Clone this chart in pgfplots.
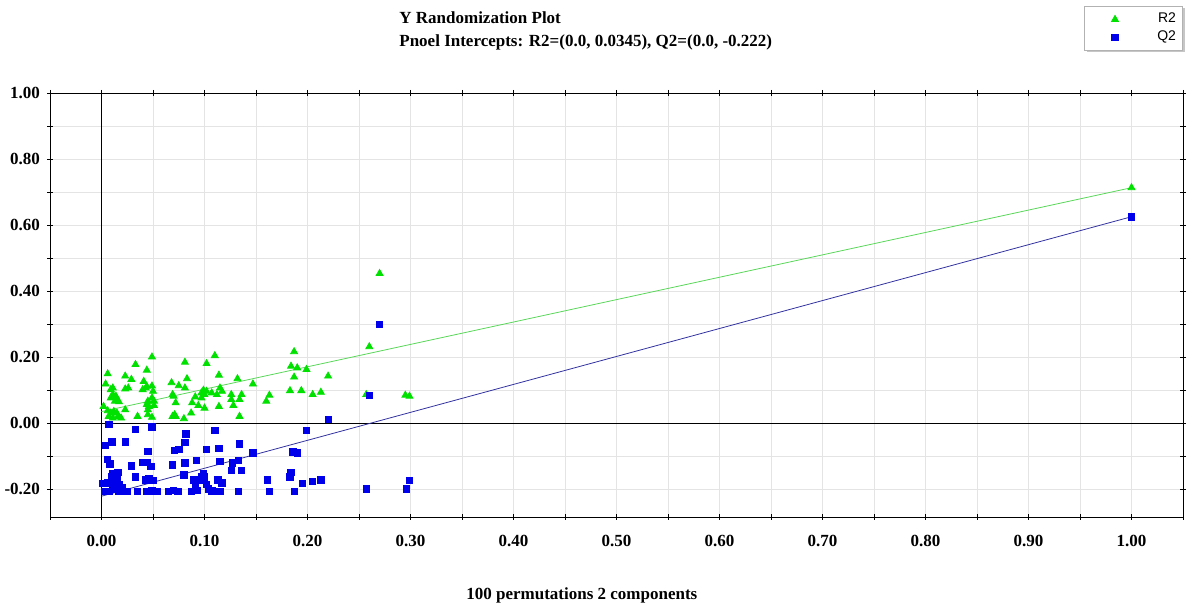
\documentclass[border=0pt]{standalone}
\usepackage{fontspec}
\setmainfont{Liberation Serif}
\newfontfamily\legendfont{Liberation Sans}
\usepackage{pgfplots}
\pgfplotsset{compat=1.18}
\usetikzlibrary{shadows}

\definecolor{rgreen}{RGB}{0,225,0}
\definecolor{qblue}{RGB}{0,0,235}
\definecolor{rline}{RGB}{90,215,90}
\definecolor{qline}{RGB}{50,50,160}
\definecolor{gridc}{RGB}{228,228,228}

\pgfplotsset{mylegend/.style={legend image code/.code={\path (0pt,0pt) (20pt,0pt); \draw[##1] plot coordinates {(13pt,0pt)};}}}

\begin{document}
\begin{tikzpicture}[x=1pt,y=1pt]
\path[use as bounding box] (0,0) rectangle (596,304);
\begin{axis}[
  at={(25pt,45.5pt)}, anchor=south west,
  scale only axis, width=566.5pt, height=212pt,
  xmin=-0.05, xmax=1.05, ymin=-0.285, ymax=1.0,
  xtick={0,0.1,0.2,0.3,0.4,0.5,0.6,0.7,0.8,0.9,1.0},
  minor xtick={-0.05,0.05,0.15,0.25,0.35,0.45,0.55,0.65,0.75,0.85,0.95,1.05},
  ytick={-0.2,0,0.2,0.4,0.6,0.8,1.0},
  minor ytick={-0.1,0.1,0.3,0.5,0.7,0.9},
  grid=both,
  major grid style={gridc},
  minor grid style={gridc},
  axis line style={black, thin},
  tick style={black, thin},
  tick align=center,
  major tick length=3pt, minor tick length=3pt,
  /pgf/number format/.cd, fixed, fixed zerofill, precision=2, assume math mode=true,
  /pgfplots/.cd,
  tick label style={font=\bfseries\fontsize{8.5}{10}\selectfont},
  xticklabel style={yshift=-4pt},
  legend style={at={(1,1.205)}, anchor=north east, draw=gray!60, fill=white,
    font=\legendfont\fontsize{7}{8}\selectfont, inner sep=2pt, row sep=0pt,
    nodes={inner sep=1.3pt},
    drop shadow={shadow xshift=1pt, shadow yshift=-1pt, fill=gray!45, opacity=1}},
  legend cell align=right,
]
\addplot[black, thin, forget plot] coordinates {(0,-0.285) (0,1)};
\addplot[black, thin, forget plot] coordinates {(-0.05,0) (1.05,0)};

\addplot[only marks, mark=triangle*, mark size=2pt, mark options={draw=rgreen, fill=rgreen}, mylegend] table {
x y
0.049 0.200
0.033 0.177
0.044 0.160
0.006 0.149
0.023 0.142
0.029 0.132
0.041 0.126
0.004 0.118
0.068 0.122
0.044 0.111
0.049 0.112
0.026 0.106
0.023 0.103
0.011 0.106
0.009 0.101
0.040 0.101
0.043 0.106
0.050 0.096
0.011 0.086
0.014 0.081
0.009 0.076
0.069 0.086
0.015 0.073
0.013 0.066
0.017 0.064
0.049 0.076
0.045 0.066
0.051 0.066
0.070 0.081
0.044 0.056
0.046 0.050
0.051 0.053
0.002 0.050
0.006 0.037
0.009 0.030
0.012 0.035
0.015 0.030
0.007 0.020
0.011 0.015
0.016 0.020
0.019 0.015
0.023 0.040
0.035 0.020
0.045 0.040
0.045 0.025
0.069 0.020
0.071 0.025
0.049 0.017
0.110 0.204
0.081 0.184
0.102 0.180
0.114 0.145
0.083 0.134
0.132 0.134
0.147 0.118
0.075 0.113
0.081 0.106
0.099 0.099
0.102 0.096
0.097 0.091
0.100 0.086
0.115 0.106
0.117 0.096
0.112 0.086
0.107 0.091
0.091 0.079
0.097 0.076
0.126 0.086
0.136 0.086
0.126 0.071
0.134 0.071
0.072 0.061
0.088 0.061
0.094 0.053
0.128 0.053
0.114 0.050
0.087 0.030
0.100 0.045
0.072 0.020
0.080 0.013
0.134 0.020
0.187 0.216
0.184 0.172
0.190 0.167
0.199 0.162
0.187 0.139
0.220 0.142
0.183 0.098
0.194 0.098
0.205 0.086
0.213 0.093
0.163 0.084
0.160 0.066
0.270 0.453
0.260 0.231
0.257 0.086
0.295 0.084
0.299 0.081
1.000 0.713
};
\addlegendentry{\makebox[22pt][r]{R2}}

\addplot[only marks, mark=square*, mark size=1.6pt, mark options={draw=qblue, fill=qblue}, mylegend] table {
x y
0.007 -0.005
0.033 -0.020
0.049 -0.012
0.010 -0.058
0.004 -0.068
0.023 -0.058
0.045 -0.086
0.006 -0.111
0.008 -0.124
0.029 -0.130
0.040 -0.120
0.044 -0.120
0.048 -0.132
0.069 -0.127
0.011 -0.152
0.016 -0.150
0.010 -0.164
0.015 -0.170
0.033 -0.164
0.043 -0.172
0.046 -0.170
0.050 -0.174
0.001 -0.184
0.006 -0.182
0.012 -0.177
0.017 -0.187
0.020 -0.197
0.003 -0.208
0.007 -0.208
0.011 -0.200
0.017 -0.208
0.022 -0.208
0.025 -0.208
0.035 -0.208
0.044 -0.208
0.049 -0.206
0.054 -0.208
0.065 -0.208
0.071 -0.083
0.082 -0.033
0.110 -0.023
0.081 -0.059
0.134 -0.064
0.075 -0.081
0.102 -0.081
0.114 -0.078
0.081 -0.121
0.092 -0.113
0.115 -0.117
0.127 -0.121
0.133 -0.113
0.147 -0.091
0.126 -0.144
0.136 -0.144
0.080 -0.157
0.099 -0.152
0.097 -0.164
0.100 -0.164
0.089 -0.172
0.095 -0.172
0.113 -0.172
0.117 -0.182
0.102 -0.187
0.104 -0.200
0.107 -0.206
0.115 -0.208
0.070 -0.205
0.074 -0.208
0.087 -0.208
0.093 -0.205
0.091 -0.197
0.133 -0.208
0.220 0.010
0.199 -0.023
0.186 -0.088
0.190 -0.091
0.161 -0.172
0.184 -0.150
0.183 -0.164
0.195 -0.184
0.205 -0.177
0.213 -0.172
0.163 -0.208
0.187 -0.208
0.270 0.298
0.260 0.084
0.296 -0.200
0.299 -0.175
0.257 -0.200
1.000 0.625
};
\addlegendentry{\makebox[22pt][r]{Q2}}

\addplot[rline, thin, forget plot] coordinates {(0,0.0345) (1,0.713)};
\addplot[qline, thin, forget plot] coordinates {(0,-0.222) (1,0.625)};
\end{axis}
\node[anchor=base west, font=\bfseries\fontsize{8.5}{10}\selectfont, inner sep=0pt] at (199.5,292.3) {Y Randomization Plot};
\node[anchor=base west, font=\bfseries\fontsize{8.5}{10}\selectfont, inner sep=0pt] at (199.5,280.7) {Pnoel Intercepts: R2=(0.0, 0.0345), Q2=(0.0, -0.222)};
\node[anchor=base west, font=\bfseries\fontsize{8.5}{10}\selectfont, inner sep=0pt] at (233,4) {100 permutations 2 components};
\end{tikzpicture}
\end{document}
